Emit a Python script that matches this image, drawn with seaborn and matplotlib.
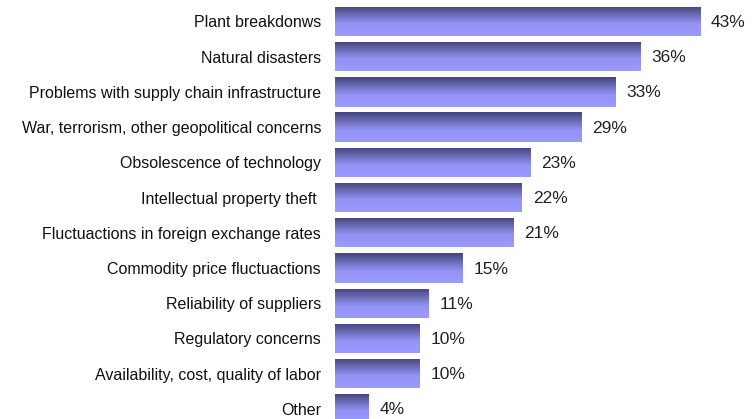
import matplotlib
matplotlib.use('Agg')
import matplotlib.pyplot as plt
import seaborn as sns
import numpy as np
import pandas as pd
from matplotlib.colors import LinearSegmentedColormap

categories = ['Plant breakdonws', 'Natural disasters', 'Problems with supply chain infrastructure',
              'War, terrorism, other geopolitical concerns', 'Obsolescence of technology',
              'Intellectual property theft ', 'Fluctuactions in foreign exchange rates',
              'Commodity price fluctuactions', 'Reliability of suppliers', 'Regulatory concerns',
              'Availability, cost, quality of labor', 'Other']
percent = [43, 36, 33, 29, 23, 22, 21, 15, 11, 10, 10, 4]

df = pd.DataFrame({'risk': categories, 'pct': percent})

sns.set_style('white')
plt.rcParams['font.family'] = ['Liberation Sans Narrow', 'Liberation Sans', 'DejaVu Sans']

fig = plt.figure(figsize=(7.55, 4.19), dpi=100)
ax = fig.add_axes([335 / 755, 0, 420 / 755, 1])

sns.barplot(data=df, y='risk', x='pct', orient='h', color='#8080d0', width=0.83, ax=ax)

# vertical gradient on each bar: dark at top, light lavender at bottom
cmap = LinearSegmentedColormap.from_list('bar', [(0, '#45457a'), (0.6, '#9494f6'), (1, '#9999ff')])
grad = np.linspace(0, 1, 64).reshape(-1, 1)
for p in ax.patches:
    x0, y0 = p.get_x(), p.get_y()
    w, h = p.get_width(), p.get_height()
    im = ax.imshow(grad, cmap=cmap, aspect='auto', extent=[x0, x0 + w, y0 + h, y0],
                   origin='upper', zorder=3, interpolation='bilinear')
    im.set_clip_path(p)
    p.set_alpha(0)

for i, v in enumerate(percent):
    ax.text(v + 1.3, i + 0.03, f'{v}%', va='center', ha='left', fontsize=12.5, color='#222222')

ax.set_xlim(0, 420 / 8.49)
ax.set_ylim(11.29, -0.61)
ax.set_xlabel('')
ax.set_ylabel('')
ax.set_xticks([])
ax.tick_params(axis='y', length=0, pad=10, labelsize=11.5, labelcolor='#111111')
sns.despine(ax=ax, left=True, bottom=True, top=True, right=True)

fig.savefig('out.png', dpi=100)
